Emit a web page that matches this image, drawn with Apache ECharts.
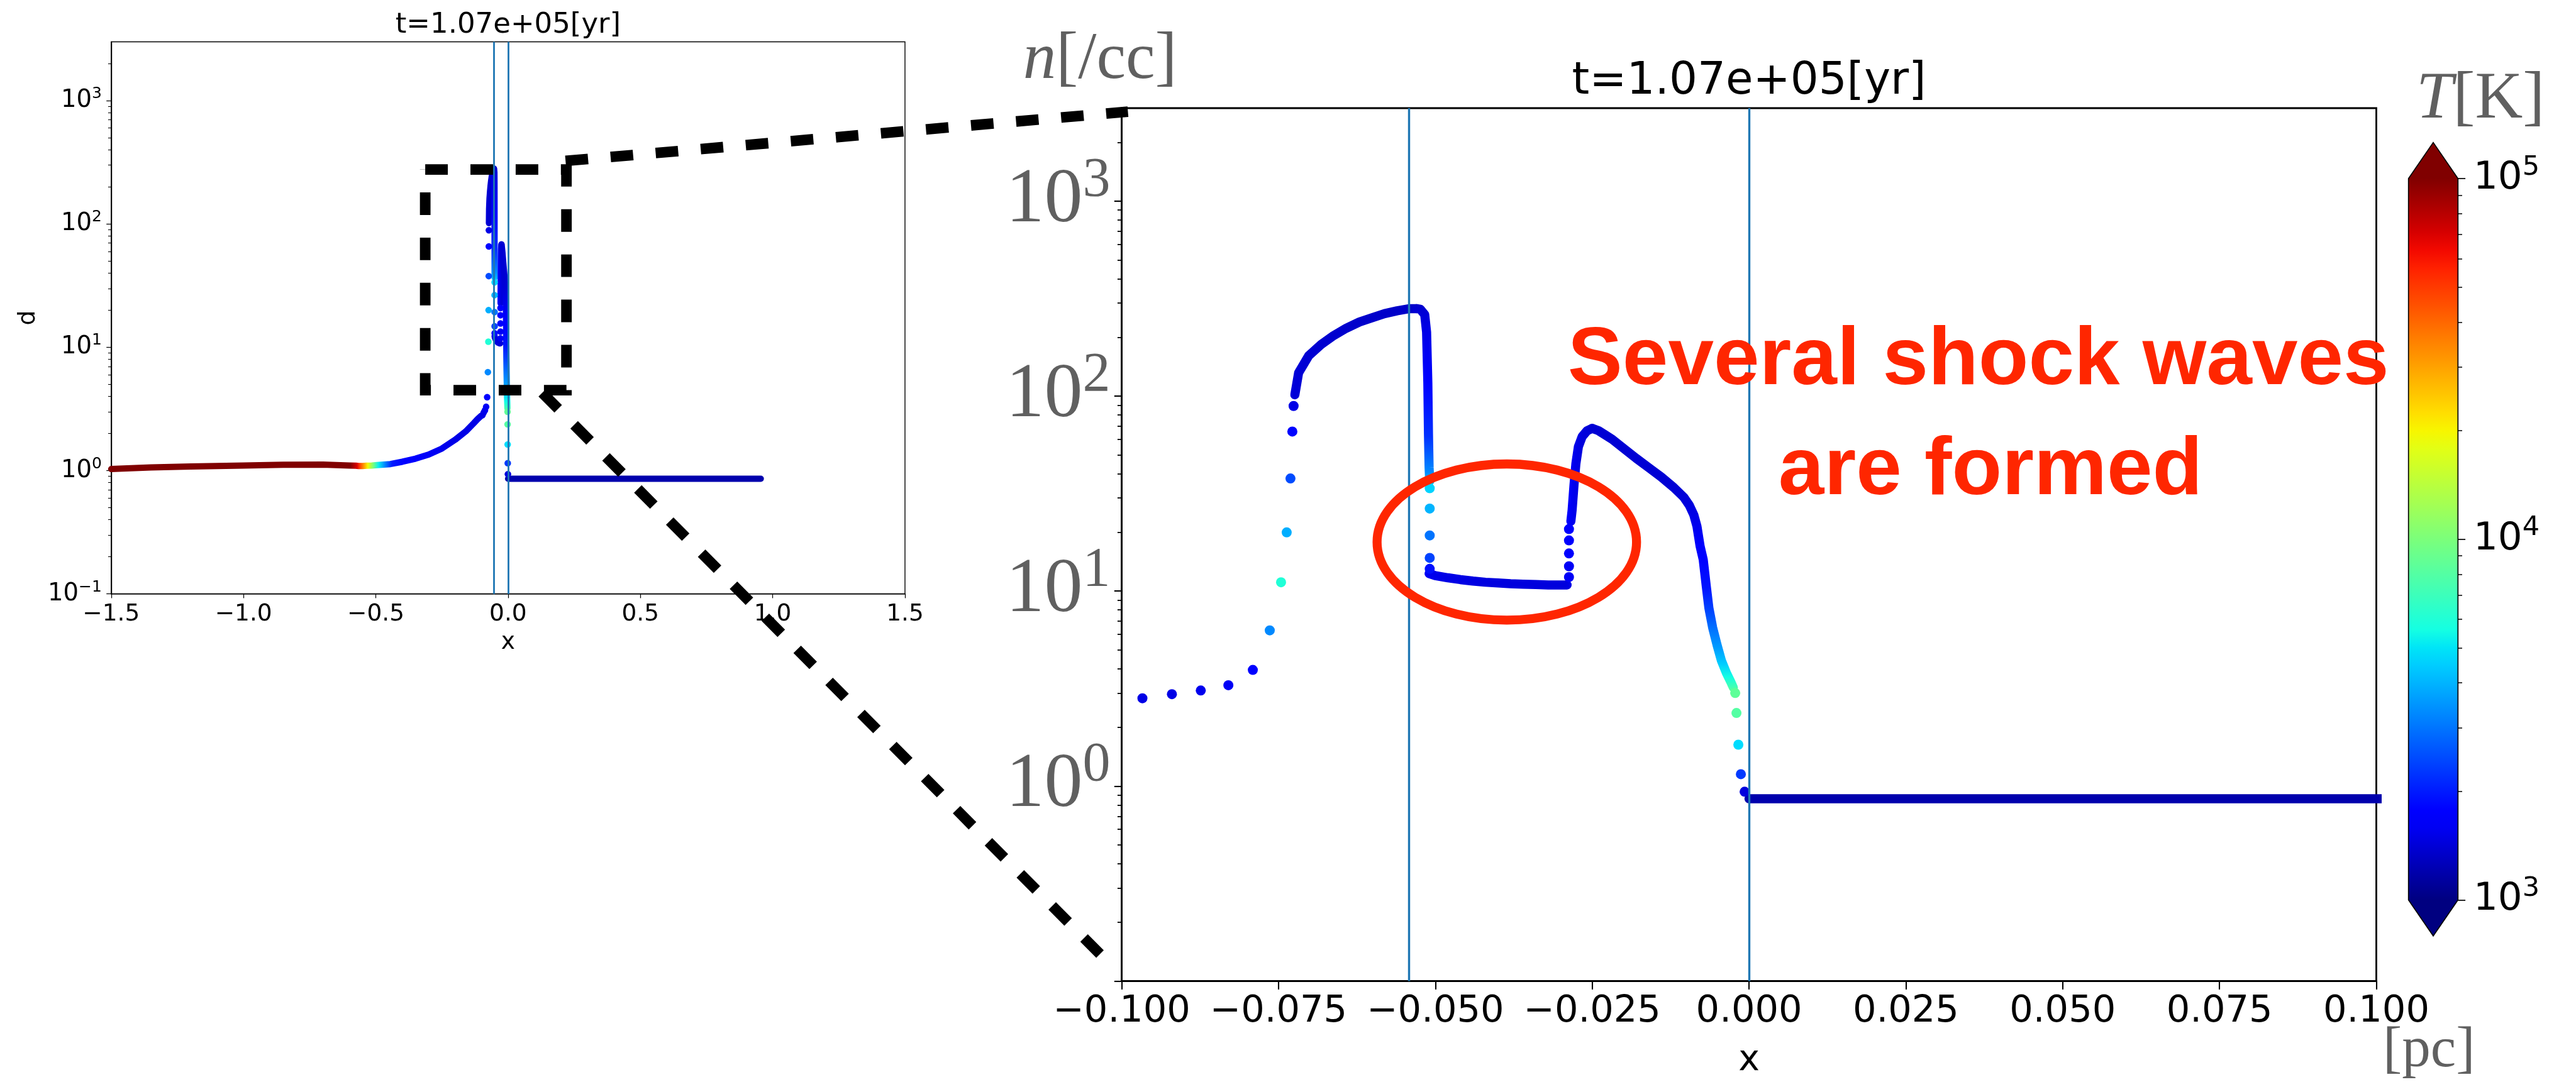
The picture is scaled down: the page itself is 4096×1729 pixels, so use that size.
<!DOCTYPE html>
<html><head><meta charset="utf-8">
<script src="https://cdn.jsdelivr.net/npm/echarts@6/dist/echarts.min.js"></script>
<style>html,body{margin:0;padding:0;background:#fff;}#chart{width:4096px;height:1729px;}</style>
</head><body><div id="chart"></div>
<script>
// ================= DATA (x in pc, n in /cc, T in K) =================
const timeLabel = 't=1.07e+05[yr]';
const shockX = [-0.0542, 0.0];            // vertical marker lines
const nRange = [0.1, 3000];               // density axis range
const tRange = [1e3, 1e5];                // colour-bar range
const nDecadeLabels = [-1, 0, 1, 2, 3];   // exponents of 10 on small plot
const nDecadeLabelsZoom = [0, 1, 2, 3];   // exponents of 10 on zoomed plot
const tDecadeLabels = [3, 4, 5];

// densely sampled stretches (cells overlap into a continuous band)
const warmX = [-1.50, -1.35, -1.20, -1.00, -0.85, -0.70, -0.60, -0.575, -0.565, -0.55, -0.535, -0.515, -0.495, -0.47, -0.445, -0.40, -0.35, -0.30, -0.25, -0.20, -0.16, -0.13, -0.115, -0.102];
const warmN = [1.03, 1.06, 1.08, 1.10, 1.115, 1.12, 1.10, 1.095, 1.09, 1.09, 1.095, 1.10, 1.11, 1.12, 1.13, 1.18, 1.25, 1.35, 1.51, 1.78, 2.08, 2.42, 2.62, 2.78];
const warmT = [1.3e5, 1.3e5, 1.3e5, 1.3e5, 1.3e5, 1.3e5, 1.2e5, 7.0e4, 5.0e4, 3.2e4, 2.0e4, 1.0e4, 5.2e3, 3.2e3, 2.0e3, 1.7e3, 1.65e3, 1.6e3, 1.55e3, 1.5e3, 1.5e3, 1.5e3, 1.5e3, 1.5e3];

const arcX = [-0.0724, -0.0718, -0.0702, -0.0682, -0.0662, -0.0642, -0.0621, -0.0600, -0.0581, -0.0561, -0.0541, -0.0530];
const arcN = [101.6, 131.8, 161, 184, 204.6, 223, 240, 253, 265, 274, 281, 281];
const arcT = [1450, 1420, 1400, 1380, 1370, 1360, 1350, 1350, 1340, 1340, 1340, 1340];

const dropX = [-0.0530, -0.0524, -0.0517, -0.0514, -0.0512, -0.0511, -0.0510, -0.0509];
const dropN = [281, 279, 262, 213, 117, 64, 43, 36.7];
const dropT = [1340, 1350, 1400, 1500, 1750, 2200, 3300, 4300];

const plateauX = [-0.0510, -0.0500, -0.0480, -0.0460, -0.0440, -0.0420, -0.0400, -0.0380, -0.0360, -0.0340, -0.0320, -0.0300, -0.0290];
const plateauN = [12.3, 12.0, 11.7, 11.45, 11.25, 11.1, 11.0, 10.9, 10.85, 10.8, 10.75, 10.75, 10.75];
const plateauT = [1600, 1550, 1500, 1500, 1480, 1470, 1460, 1450, 1450, 1450, 1450, 1450, 1500];

const humpRiseX = [-0.0284, -0.0282, -0.0279, -0.0276, -0.0272, -0.0266, -0.0258, -0.0250];
const humpRiseN = [22.8, 26, 35, 45, 55, 62, 66.5, 68.3];
const humpRiseT = [1700, 1650, 1600, 1550, 1500, 1450, 1420, 1400];

const humpFallX = [-0.0250, -0.0240, -0.0230, -0.0218, -0.0200, -0.0180, -0.0160, -0.0140, -0.0120, -0.0104, -0.0095, -0.0088, -0.0083, -0.0078, -0.0073, -0.0068, -0.0064, -0.0058, -0.0051, -0.0044, -0.0036, -0.0029, -0.0025];
const humpFallN = [68.3, 66.5, 63.5, 60, 54, 48, 43, 38.5, 34, 30.3, 27.5, 24.6, 21.5, 17, 14.5, 10.5, 8.2, 6.5, 5.3, 4.4, 3.8, 3.42, 3.2];
const humpFallT = [1400, 1400, 1400, 1400, 1400, 1400, 1400, 1400, 1400, 1420, 1450, 1500, 1550, 1650, 1750, 1950, 2400, 3000, 3600, 4500, 5600, 7200, 8500];

const flatX = [0.0, 0.2, 0.4, 0.6, 0.8, 0.955];
const flatN = [0.86, 0.86, 0.86, 0.86, 0.86, 0.86];
const flatT = [1200, 1200, 1200, 1200, 1200, 1200];

// isolated cells drawn as separate dots
const dotX = [-0.0967, -0.0920, -0.0874, -0.0830, -0.0791, -0.0764, -0.0746, -0.0737, -0.0731, -0.0728, -0.0726,
              -0.0509, -0.0509, -0.0509, -0.0509, -0.0509,
              -0.0287, -0.0287, -0.0287, -0.0287, -0.0287,
              -0.0022, -0.0020, -0.0017, -0.0013, -0.0007];
const dotN = [2.82, 2.96, 3.09, 3.29, 3.94, 6.29, 11.1, 20.0, 37.8, 65.8, 89.0,
              33.7, 26.5, 19.3, 14.8, 13.0,
              11.8, 13.4, 15.6, 18.2, 20.8,
              3.0, 2.37, 1.63, 1.15, 0.935];
const dotT = [1500, 1500, 1550, 1600, 1750, 3300, 6000, 3900, 2500, 1800, 1500,
              4600, 4000, 3000, 2400, 1900,
              1600, 1600, 1650, 1650, 1700,
              8500, 8000, 4800, 2300, 1450];

// ================= HELPERS =================
const S = 0.842;                 // reference px -> page px
const R = v => v * S;
const L10 = Math.log10;

function jetFrac(v) {
  v = Math.max(0, Math.min(1, v));
  const seg = pts => {
    for (let i = 1; i < pts.length; i++) {
      if (v <= pts[i][0]) { const [x0, y0] = pts[i - 1], [x1, y1] = pts[i]; return y0 + (y1 - y0) * (v - x0) / (x1 - x0); }
    }
    return pts[pts.length - 1][1];
  };
  const r = seg([[0, 0], [0.35, 0], [0.66, 1], [0.89, 1], [1, 0.5]]);
  const g = seg([[0, 0], [0.125, 0], [0.375, 1], [0.64, 1], [0.91, 0], [1, 0]]);
  const b = seg([[0, 0.5], [0.11, 1], [0.34, 1], [0.65, 0], [1, 0]]);
  return `rgb(${Math.round(r * 255)},${Math.round(g * 255)},${Math.round(b * 255)})`;
}
const tLo = L10(tRange[0]), tHi = L10(tRange[1]);
const jet = T => jetFrac((L10(T) - tLo) / (tHi - tLo));

function segGradient(xs, ns, ts, dir) {
  const vals = dir === 'x' ? xs.slice() : ns.map(L10);
  const lo = Math.min(...vals), hi = Math.max(...vals);
  const idx = vals.map((v, i) => i).sort((a, b) => dir === 'x' ? vals[a] - vals[b] : vals[b] - vals[a]);
  const stops = idx.map(i => ({ offset: dir === 'x' ? (vals[i] - lo) / (hi - lo) : (hi - vals[i]) / (hi - lo), color: jet(ts[i]) }));
  return dir === 'x' ? new echarts.graphic.LinearGradient(0, 0, 1, 0, stops)
                     : new echarts.graphic.LinearGradient(0, 0, 0, 1, stops);
}

const segments = [
  { x: warmX, n: warmN, t: warmT, dir: 'x' },
  { x: arcX, n: arcN, t: arcT, dir: 'x' },
  { x: dropX, n: dropN, t: dropT, dir: 'y' },
  { x: plateauX, n: plateauN, t: plateauT, dir: 'x' },
  { x: humpRiseX, n: humpRiseN, t: humpRiseT, dir: 'x' },
  { x: humpFallX, n: humpFallN, t: humpFallT, dir: 'y' },
  { x: flatX, n: flatN, t: flatT, dir: 'x' }
];

const yMin = L10(nRange[0]), yMax = L10(nRange[1]);
function minorLog(lo, hi) {
  const out = [];
  for (let d = Math.floor(lo); d < hi; d++) for (let k = 2; k <= 9; k++) {
    const v = d + L10(k); if (v > lo && v < hi) out.push(v);
  }
  return out;
}
const expLabel = v => { const e = Math.round(v); return '{b|10}{s|' + (e < 0 ? '\u2212' + (-e) : e) + '}'; };
const signed = d => v => (Math.abs(v) < 1e-9 ? (0).toFixed(d) : (v < 0 ? '\u2212' : '') + Math.abs(v).toFixed(d));

// ================= LAYOUT =================
const P = [
  { grid: { left: R(210), top: R(79), width: R(1499), height: R(1043) }, lw: 10, dot: 10.5, vline: 2.8 },
  { grid: { left: R(2118.3), top: R(204.3), width: R(2369.2), height: R(1648.9) }, lw: 14.5, dot: 16, vline: 3.4 }
];
const cbGrid = { left: R(4548.3), top: R(337.3), width: R(93.4), height: R(1362.7) };

const series = [];
P.forEach((p, pi) => {
  segments.forEach(sg => {
    series.push({
      type: 'line', xAxisIndex: pi, yAxisIndex: pi * 2, symbol: 'none', silent: true, clip: true, z: 2,
      data: sg.x.map((x, i) => [x, L10(sg.n[i])]),
      lineStyle: { width: p.lw, color: segGradient(sg.x, sg.n, sg.t, sg.dir), cap: 'round', join: 'round' }
    });
  });
  series.push({
    type: 'scatter', xAxisIndex: pi, yAxisIndex: pi * 2, silent: true, clip: true, z: 3,
    symbolSize: p.dot,
    data: dotX.map((x, i) => [x, L10(dotN[i]), dotT[i]]),
    itemStyle: { color: prm => jet(prm.value[2]), opacity: 1 }
  });
  series.push({
    type: 'line', xAxisIndex: pi, yAxisIndex: pi * 2, data: [], z: 4, silent: true,
    markLine: { silent: true, symbol: ['none', 'none'], label: { show: false }, animation: false, precision: 6,
      lineStyle: { color: '#1f77b4', width: p.vline, type: 'solid' },
      data: shockX.map(v => ({ xAxis: v })) }
  });
});

// colour bar (with extension triangles)
const cbExtend = 0.05;
series.push({
  type: 'custom', xAxisIndex: 2, yAxisIndex: 4, clip: false, silent: true, z: 2,
  data: [[0, tLo, tHi]],
  renderItem: (params, api) => {
    const lo = api.value(1), hi = api.value(2), ext = (hi - lo) * cbExtend;
    const tl = api.coord([0, hi]), br = api.coord([1, lo]);
    const apT = api.coord([0.5, hi + ext]), apB = api.coord([0.5, lo - ext]);
    const tot = hi - lo + 2 * ext;
    const stops = [{ offset: 0, color: jetFrac(1) }];
    for (let k = 40; k >= 0; k--) {
      const v = k / 40;
      stops.push({ offset: (hi + ext - (lo + v * (hi - lo))) / tot, color: jetFrac(v) });
    }
    stops.push({ offset: 1, color: jetFrac(0) });
    return {
      type: 'polygon',
      shape: { points: [[tl[0], tl[1]], [apT[0], apT[1]], [br[0], tl[1]], [br[0], br[1]], [apB[0], apB[1]], [tl[0], br[1]]] },
      style: { fill: new echarts.graphic.LinearGradient(0, 0, 0, 1, stops), stroke: '#000', lineWidth: 1.7 }
    };
  }
});

const black = '#000', gray = '#606060';
const smallTxt = { fontFamily: 'DejaVu Sans', color: black };

const option = {
  animation: false,
  backgroundColor: '#fff',
  grid: [
    Object.assign({ show: true, borderColor: black, borderWidth: 1.4 }, P[0].grid),
    Object.assign({ show: true, borderColor: black, borderWidth: 2.8 }, P[1].grid),
    Object.assign({ show: false }, cbGrid)
  ],
  xAxis: [
    { gridIndex: 0, type: 'value', min: -1.5, max: 1.5, interval: 0.5,
      axisLine: { onZero: false, lineStyle: { color: black, width: 1.4 } },
      axisTick: { length: 6.7, lineStyle: { color: black, width: 1.26 } },
      axisLabel: Object.assign({ formatter: signed(1), fontSize: 37.5, margin: 14 }, smallTxt),
      splitLine: { show: false },
      name: 'x', nameLocation: 'middle', nameGap: 59, nameTextStyle: { fontSize: 37.5, fontFamily: 'DejaVu Sans', color: black } },
    { gridIndex: 1, type: 'value', min: -0.1, max: 0.1, interval: 0.025,
      axisLine: { onZero: false, lineStyle: { color: black, width: 2.8 } },
      axisTick: { length: 13.5, lineStyle: { color: black, width: 2.1 } },
      axisLabel: Object.assign({ formatter: signed(3), fontSize: 59, margin: 20 }, smallTxt),
      splitLine: { show: false },
      name: 'x', nameLocation: 'middle', nameGap: 98, nameTextStyle: { fontSize: 57, fontFamily: 'DejaVu Sans', color: black } },
    { gridIndex: 2, type: 'value', min: 0, max: 1, show: false, axisLine: { onZero: false } }
  ],
  yAxis: [
    { gridIndex: 0, type: 'value', min: yMin, max: yMax, position: 'left',
      axisLine: { onZero: false, lineStyle: { color: black, width: 1.4 } },
      axisTick: { customValues: nDecadeLabels, length: 7.6, lineStyle: { color: black, width: 1.26 } },
      axisLabel: { customValues: nDecadeLabels, formatter: expLabel, margin: 15,
        rich: { b: { fontFamily: 'DejaVu Sans', fontSize: 38.5, color: black },
                s: { fontFamily: 'DejaVu Sans', fontSize: 25, color: black, padding: [0, 0, 21, 0] } } },
      splitLine: { show: false },
      name: 'd', nameLocation: 'middle', nameRotate: 90, nameGap: 113, nameTextStyle: { fontSize: 37.5, fontFamily: 'DejaVu Sans', color: black } },
    { gridIndex: 0, type: 'value', min: yMin, max: yMax, position: 'left',
      axisLine: { show: false, onZero: false }, axisLabel: { show: false }, splitLine: { show: false },
      axisTick: { customValues: minorLog(yMin, yMax), length: 4.8, lineStyle: { color: black, width: 1.1 } } },
    { gridIndex: 1, type: 'value', min: yMin, max: yMax, position: 'left',
      axisLine: { onZero: false, lineStyle: { color: black, width: 2.8 } },
      axisTick: { customValues: nDecadeLabels, length: 11.8, lineStyle: { color: black, width: 2.1 } },
      axisLabel: { customValues: nDecadeLabelsZoom, formatter: expLabel, margin: 18,
        rich: { b: { fontFamily: 'Liberation Serif', fontSize: 122, color: gray },
                s: { fontFamily: 'Liberation Serif', fontSize: 88, color: gray, padding: [0, 0, 65, 0] } } },
      splitLine: { show: false } },
    { gridIndex: 1, type: 'value', min: yMin, max: yMax, position: 'left',
      axisLine: { show: false, onZero: false }, axisLabel: { show: false }, splitLine: { show: false },
      axisTick: { customValues: minorLog(yMin, yMax), length: 6.7, lineStyle: { color: black, width: 1.8 } } },
    { gridIndex: 2, type: 'value', min: tLo, max: tHi, position: 'right',
      axisLine: { show: false, onZero: false },
      axisTick: { customValues: tDecadeLabels, length: 11.8, lineStyle: { color: black, width: 1.7 } },
      axisLabel: { customValues: tDecadeLabels, formatter: expLabel, margin: 24.7,
        rich: { b: { fontFamily: 'DejaVu Sans', fontSize: 61, color: black },
                s: { fontFamily: 'DejaVu Sans', fontSize: 43, color: black, padding: [0, 0, 35, 0] } } },
      splitLine: { show: false } },
    { gridIndex: 2, type: 'value', min: tLo, max: tHi, position: 'right',
      axisLine: { show: false, onZero: false }, axisLabel: { show: false }, splitLine: { show: false },
      axisTick: { customValues: minorLog(tLo, tHi), length: 6.7, lineStyle: { color: black, width: 1.5 } } }
  ],
  series: series,
  graphic: { elements: [
    { type: 'text', z: 100, silent: true, style: { text: timeLabel, x: R(959.5), y: R(47.5), align: 'center', verticalAlign: 'middle', fontSize: 45, fontFamily: 'DejaVu Sans', fill: black } },
    { type: 'text', z: 100, silent: true, style: { text: timeLabel, x: R(3303), y: R(155), align: 'center', verticalAlign: 'middle', fontSize: 70.7, fontFamily: 'DejaVu Sans', fill: black } },
    { type: 'text', z: 100, silent: true, style: { text: '{i|n}{r|[/cc]}', x: R(1932), y: R(156.7) - 0.34 * 105, align: 'left', verticalAlign: 'middle',
        rich: { i: { fontFamily: 'Liberation Serif', fontStyle: 'italic', fontSize: 105, fill: gray }, r: { fontFamily: 'Liberation Serif', fontSize: 105, fill: gray } } } },
    { type: 'text', z: 100, silent: true, style: { text: '{i|T}{r|[K]}', x: R(4563), y: R(231.7) - 0.34 * 105, align: 'left', verticalAlign: 'middle',
        rich: { i: { fontFamily: 'Liberation Serif', fontStyle: 'italic', fontSize: 105, fill: gray }, r: { fontFamily: 'Liberation Serif', fontSize: 105, fill: gray } } } },
    { type: 'text', z: 100, silent: true, style: { text: '[pc]', x: R(4500), y: R(2023) - 0.34 * 91, align: 'left', verticalAlign: 'middle', fontFamily: 'Liberation Serif', fontSize: 91, fill: gray } },
    { type: 'text', z: 100, silent: true, style: { text: 'Several shock waves', x: R(3736), y: R(737) - 0.347 * 130.5, align: 'center', verticalAlign: 'middle', fontFamily: 'Liberation Sans', fontWeight: 'bold', fontSize: 130.5, fill: '#ff2600' } },
    { type: 'text', z: 100, silent: true, style: { text: 'are formed', x: R(3759), y: R(945) - 0.347 * 130.5, align: 'center', verticalAlign: 'middle', fontFamily: 'Liberation Sans', fontWeight: 'bold', fontSize: 130.5, fill: '#ff2600' } },
    { type: 'ellipse', z: 100, silent: true, shape: { cx: R(2845.5), cy: R(1024), rx: R(245), ry: R(147.5) }, style: { fill: 'none', stroke: '#ff2600', lineWidth: R(17) } },
    { type: 'polyline', z: 100, silent: true, shape: { points: [[803, 320.3], [1069.7, 320.3], [1069.7, 737], [803, 737], [803, 320.3]].map(p => p.map(R)) },
      style: { fill: null, stroke: black, lineWidth: R(20), lineDash: [R(42.7), R(42.7)] } },
    { type: 'polyline', z: 100, silent: true, shape: { points: [[1068, 304], [2130, 211]].map(p => p.map(R)) },
      style: { fill: null, stroke: black, lineWidth: R(20), lineDash: [R(42.7), R(42.7)] } },
    { type: 'polyline', z: 100, silent: true, shape: { points: [[1024, 742], [2082, 1807]].map(p => p.map(R)) },
      style: { fill: null, stroke: black, lineWidth: R(20), lineDash: [R(42.7), R(42.7)] } }
  ] }
};

const chart = echarts.init(document.getElementById('chart'), null, { renderer: 'canvas' });
chart.setOption(option);
</script>
</body></html>
